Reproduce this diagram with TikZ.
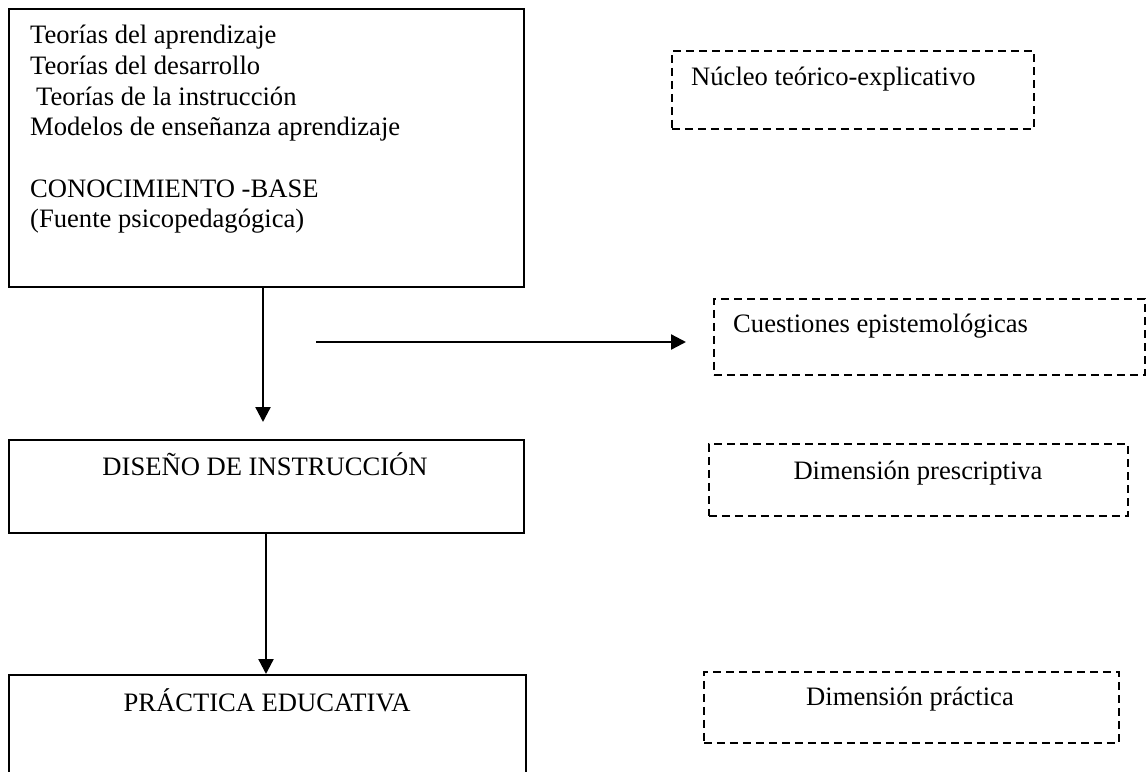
\documentclass[tikz,border=0pt]{standalone}
\usepackage{fontspec}
\setmainfont{Liberation Serif}
\usetikzlibrary{arrows.meta}
\begin{document}
\begin{tikzpicture}[x=1pt,y=-1pt,
  box/.style={draw, line width=2pt, rectangle, inner sep=0pt, anchor=north west},
  dbox/.style={draw, line width=1.9pt, dash pattern=on 8pt off 5pt, rectangle, inner sep=0pt, anchor=north west},
  txt/.style={font=\fontsize{26.6}{30.7}\selectfont, inner sep=0pt},
  arr/.style={line width=2.3pt, -{Triangle[length=15pt,width=15pt]}}]
\useasboundingbox (0,0) rectangle (1147,771);
\clip (0,0) rectangle (1147,771);
% left column boxes
\node[box, minimum width=515pt, minimum height=278pt] (b1) at (8,8) {};
\node[txt, anchor=north west, align=left] (t1) at (30,25) {Teorías del aprendizaje\\
Teorías del desarrollo\\
\hspace{6pt}Teorías de la instrucción\\
Modelos de enseñanza aprendizaje\\[30.7pt]
CONOCIMIENTO -BASE\\
(Fuente psicopedagógica)};
\node[box, minimum width=515pt, minimum height=93pt] (b2) at (8,439) {};
\node[txt, anchor=base] (t2) at (265,475) {DISEÑO DE INSTRUCCIÓN};
\node[box, minimum width=517pt, minimum height=130pt] (b3) at (8,674) {};
\node[txt, anchor=base] (t3) at (267,711) {PRÁCTICA EDUCATIVA};
% right column dashed boxes
\node[dbox, minimum width=362pt, minimum height=78pt] (n1) at (671,50) {};
\node[txt, anchor=base west] (m1) at (691,85) {Núcleo teórico-explicativo};
\node[dbox, minimum width=431pt, minimum height=76pt] (n2) at (713,298) {};
\node[txt, anchor=base west] (m2) at (733,332) {Cuestiones epistemológicas};
\node[dbox, minimum width=419pt, minimum height=72pt] (n3) at (708,443) {};
\node[txt, anchor=base] (m3) at (918,479) {Dimensión prescriptiva};
\node[dbox, minimum width=415pt, minimum height=71pt] (n4) at (703,671) {};
\node[txt, anchor=base] (m4) at (910,705) {Dimensión práctica};
% connectors
\coordinate (h1) at (316,342);
\coordinate (h2) at (686,342);
\draw[arr] (b1.south -| 263,0) -- ([yshift=17pt]b2.north -| 263,0);
\draw[arr] (h1) -- (h2);
\draw[arr] (b2.south -| 266,0) -- (b3.north -| 266,0);
\end{tikzpicture}
\end{document}
